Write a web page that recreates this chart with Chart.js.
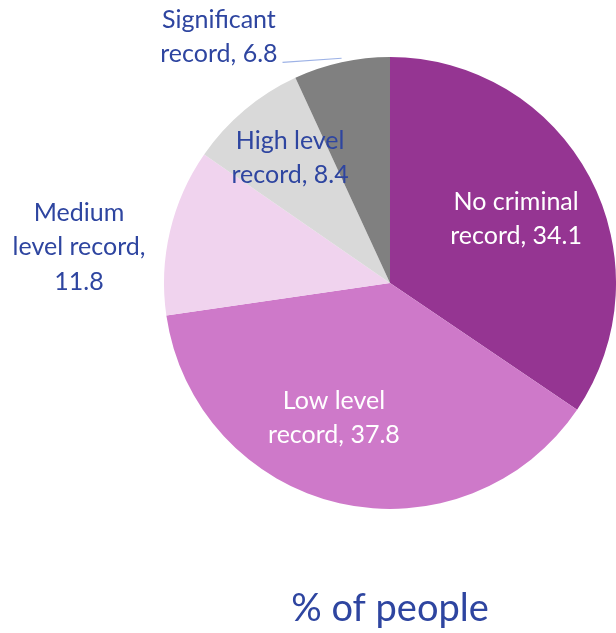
<!DOCTYPE html>
<html>
<head>
<meta charset="utf-8">
<script src="https://cdn.jsdelivr.net/npm/chart.js@4"></script>
<style>
html,body{margin:0;padding:0;background:#fff;}
#wrap{width:616px;height:633px;position:relative;}
</style>
</head>
<body>
<div id="wrap"><canvas id="c" width="616" height="633"></canvas></div>
<script>
const categories = ["No criminal record", "Low level record", "Medium level record", "High level record", "Significant record"];
const labelLines = [["No criminal", "record, 34.1"], ["Low level", "record, 37.8"], ["Medium", "level record,", "11.8"], ["High level", "record, 8.4"], ["Significant", "record, 6.8"]];
const values = [34.1, 37.8, 11.8, 8.4, 6.8];
const sliceColors = ["#953592", "#CE79C9", "#F0D3EE", "#D9D9D9", "#808080"];
const labelColors = ["#FFFFFF", "#FFFFFF", "#2E45A0", "#2E45A0", "#2E45A0"];
const chartTitle = "% of people";

// label block centres, relative to pie centre in units of the radius
const labelRel = [[0.558, -0.283], [-0.248, 0.597], [-1.376, -0.159], [-0.442, -0.553], [-0.757, -1.088]];

const FONT = "Lato, 'Open Sans', sans-serif";

const labelPlugin = {
  id: 'labelPlugin',
  afterDatasetsDraw(chart) {
    const ctx = chart.ctx;
    const meta = chart.getDatasetMeta(0);
    ctx.save();
    ctx.font = "25px " + FONT;
    ctx.textAlign = 'center';
    ctx.textBaseline = 'middle';
    const lh = 34.5;
    meta.data.forEach((arc, i) => {
      const r = arc.outerRadius;
      const cx = arc.x + labelRel[i][0] * r;
      const cy = arc.y + labelRel[i][1] * r;
      const lines = labelLines[i];
      ctx.fillStyle = labelColors[i];
      lines.forEach((ln, k) => {
        ctx.fillText(ln, cx, cy + (k - (lines.length - 1) / 2) * lh);
      });
      if (i === 4) {
        const mid = (arc.startAngle + arc.endAngle) / 2;
        const ex = arc.x + Math.cos(mid) * r;
        const ey = arc.y + Math.sin(mid) * r - 4;
        const lastW = ctx.measureText(lines[lines.length - 1]).width;
        const sx = cx + lastW / 2 + 5;
        const sy = cy + lh / 2 + 8;
        ctx.strokeStyle = "#9DB2E6";
        ctx.lineWidth = 1.2;
        ctx.beginPath();
        ctx.moveTo(sx, sy);
        ctx.lineTo(ex, ey);
        ctx.stroke();
      }
    });
    ctx.fillStyle = "#2E45A0";
    ctx.font = "38px " + FONT;
    ctx.fillText(chartTitle, meta.data[0].x, 609);
    ctx.restore();
  }
};

new Chart(document.getElementById('c'), {
  type: 'pie',
  data: {
    labels: categories,
    datasets: [{
      data: values,
      backgroundColor: sliceColors,
      borderWidth: 0
    }]
  },
  options: {
    responsive: false,
    animation: false,
    layout: { padding: { left: 164, right: 0, top: 57, bottom: 124 } },
    plugins: {
      legend: { display: false },
      tooltip: { enabled: false },
      title: { display: false }
    }
  },
  plugins: [labelPlugin]
});
</script>
</body>
</html>
